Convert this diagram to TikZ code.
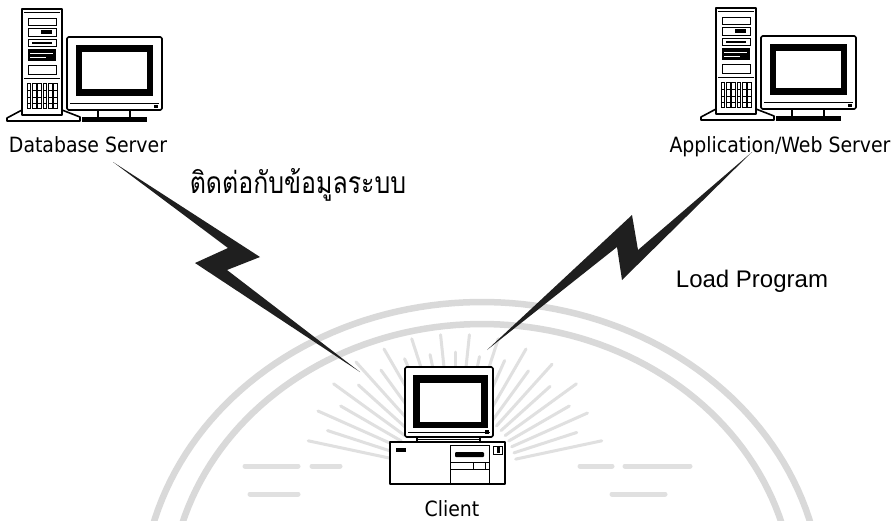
\documentclass[tikz,border=0pt]{standalone}
\usepackage{fontspec}
\setmainfont{DejaVu Sans}
\newfontfamily\labelfont{DejaVu Sans Condensed}
\newfontfamily\thaifont[Script=Thai]{Loma}
\newfontfamily\arialfont{Liberation Sans}
\begin{document}
\begin{tikzpicture}[x=1pt,y=-1pt,
  outl/.style={draw=black, line width=1.6pt, line join=round},
  thin/.style={draw=black, line width=0.9pt},
  seal/.style={draw=black!15, line width=6.5pt},
  sealray/.style={draw=black!12, line width=3pt, line cap=round},
  bolt/.style={fill=black!88, draw=none},
  label/.style={font=\labelfont\fontsize{21}{24}\selectfont, anchor=base, inner sep=0pt},
  pics/server/.style={code={
    % tower foot
    \draw[outl, fill=white] (-15,112) -- (-15,109) -- (0,101) -- (40,101) -- (58,108) -- (58,112) -- cycle;
    % tower body
    \draw[outl, fill=white] (0,0) rectangle (40,106);
    \draw[thin] (2,3) -- (38,3);
    \draw[thin] (6,9) rectangle (34,16);
    \draw[thin] (6,19) rectangle (34,27);
    \fill (19,21) rectangle (30,25);
    \draw[thin] (6,30) rectangle (34,37);
    \fill (10,32.5) rectangle (30,35);
    \fill (6,40) rectangle (34,52);
    \draw[white, line width=0.8pt] (8,44) -- (31,44) (8,48) -- (24,48);
    \draw[thin] (6,56) rectangle (34,65);
    \draw[thin] (2,69) -- (38,69);
    \foreach \i in {0,...,5} {
      \draw[line width=0.8pt] (5+5.3*\i,74) rectangle (8.8+5.3*\i,99);
      \draw[line width=0.6pt] (5+5.3*\i,81) -- (8.8+5.3*\i,81) (5+5.3*\i,88) -- (8.8+5.3*\i,88) (5+5.3*\i,94) -- (8.8+5.3*\i,94);
    }
    % monitor
    \draw[outl, fill=white, rounded corners=1.5pt] (45,28) rectangle (140,101);
    \fill (54,36) rectangle (131,87);
    \fill[white] (60,43) rectangle (125,80);
    \draw[thin] (48,94) -- (137,94);
    \fill (132,96) rectangle (136,99);
    \draw[line width=1.4pt] (76,101) -- (76,108) (108,101) -- (108,108);
    \fill (60,107.5) rectangle (125,113);
  }},
  pics/client/.style={code={
    % monitor
    \draw[outl, fill=white, rounded corners=1.5pt] (0,0) rectangle (88,70);
    \fill (8,8) rectangle (83,61);
    \fill[white] (15,16) rectangle (76,55);
    \draw[thin] (3,65) -- (85,65);
    \fill (80,63) rectangle (84,67);
    \draw[line width=1.4pt] (12,70) -- (12,75) (75,70) -- (75,75);
    \draw[thin] (12,72.5) -- (75,72.5);
    % desktop case
    \draw[outl, fill=white] (-15,75) rectangle (100,117);
    \fill (-9,81) rectangle (1,85);
    \draw[thin] (45,78) rectangle (84,117);
    \fill[rounded corners=1pt] (50,85) rectangle (79,90);
    \draw[thin] (45,95) -- (84,95) (45,102) -- (84,102);
    \draw[thin] (68,95) rectangle (80,102);
    \draw[thin] (88,79) rectangle (97,87);
    \fill (92,80) rectangle (95,86);
  }}
]
\useasboundingbox (0,0) rectangle (896,520);
\fill[white] (0,0) rectangle (896,520);

% faint seal behind the client
\begin{scope}
  \clip (0,0) rectangle (896,520);
  \draw[seal] plot[domain=194:346, samples=80] ({482+340*cos(\x)}, {600+298*sin(\x)});
  \draw[seal] plot[domain=194:346, samples=80] ({482+312*cos(\x)}, {600+276*sin(\x)});
  \foreach \a/\r in {12/150,18/128,24/145,30/132,36/150,42/128,48/145,54/125,60/142,66/122,72/140,78/118,84/138,90/120,96/138,102/120,108/140,114/124,120/142,126/126,132/148,138/130,144/150,150/132,156/150,162/134,168/150} {
    \draw[sealray] ({455+62*cos(\a)}, {472-62*sin(\a)}) -- ({455+\r*cos(\a)}, {472-\r*sin(\a)});
  }
  \draw[sealray, line width=5pt] (245,466) -- (298,466) (312,466) -- (340,466) (250,494) -- (298,494);
  \draw[sealray, line width=5pt] (580,466) -- (612,466) (625,466) -- (690,466) (612,494) -- (665,494);
\end{scope}

% machines
\pic at (22,9) {server};
\pic at (716,8) {server};
\pic at (405,367) {client};

% labels
\node[label] (dblabel) at (88,152) {Database Server};
\node[label] (applabel) at (780,152) {Application/Web Server};
\node[label] (clientlabel) at (452,516) {Client};
\node[anchor=base, inner sep=0pt, font=\thaifont\fontsize{30}{34}\selectfont] (dbtext) at (298,193) {\scalebox{0.83}[1]{ติดต่อกับข้อมูลระบบ}};
\node[anchor=base, inner sep=0pt, font=\arialfont\fontsize{24}{28}\selectfont] (apptext) at (752,287) {Load Program};

% lightning links
\coordinate (dbEnd) at (113,162);
\coordinate (dbMid1) at (260,257);
\coordinate (dbMid2) at (227,270);
\coordinate (clEndL) at (360,372);
\coordinate (dbMid3) at (195,263);
\coordinate (dbMid4) at (228,248);
\fill[bolt] (dbEnd) -- (dbMid1) -- (dbMid2) -- (clEndL) -- (dbMid3) -- (dbMid4) -- cycle;

\coordinate (clEndR) at (487,350);
\coordinate (apMid1) at (632,215);
\coordinate (apMid2) at (638,250);
\coordinate (apEnd) at (752,152);
\coordinate (apMid3) at (622,280);
\coordinate (apMid4) at (617,247);
\fill[bolt] (clEndR) -- (apMid1) -- (apMid2) -- (apEnd) -- (apMid3) -- (apMid4) -- cycle;
\end{tikzpicture}
\end{document}
